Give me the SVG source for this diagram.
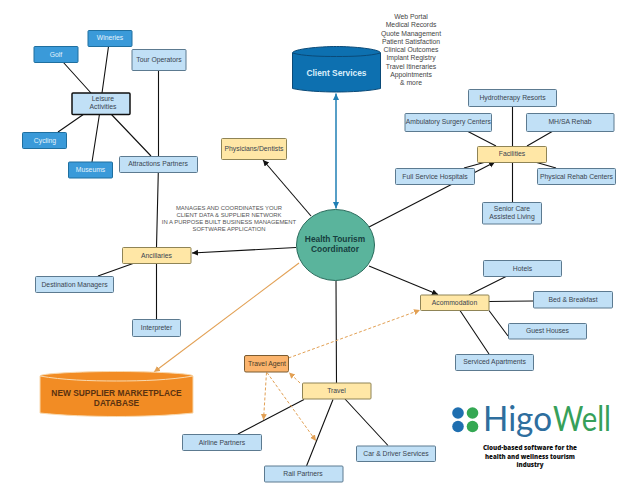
<svg xmlns="http://www.w3.org/2000/svg" width="638" height="493" viewBox="0 0 638 493">
<defs>
<style>
text{font-family:"Liberation Sans",Arial,sans-serif;text-anchor:middle}
.b rect{fill:#c1e0f6;stroke:#5c7a90;stroke-width:1}
.d rect{fill:#3a9ad9;stroke:#1f6f9f;stroke-width:1}
.y rect{fill:#ffe7a6;stroke:#8f8456;stroke-width:1}
.b text,.y text{font-size:6.8px;fill:#3a4450}
.d text{font-size:6.8px;fill:#e4f3fc}
.k{stroke:#111;stroke-width:1.1;fill:none}
.o{stroke:#e2a054;stroke-width:1;fill:none;stroke-dasharray:3 2}
.note{font-size:5.9px;fill:#555}
.list{font-size:6.8px;fill:#444}
.big{font-size:8.4px;font-weight:700}
</style>
<marker id="ak" markerWidth="7" markerHeight="7" refX="6" refY="3" orient="auto" markerUnits="userSpaceOnUse"><path d="M0 0L6 3L0 6Z" fill="#111"/></marker>
<marker id="ao" markerWidth="7" markerHeight="7" refX="6" refY="3" orient="auto" markerUnits="userSpaceOnUse"><path d="M0 0L6 3L0 6Z" fill="#e2a054"/></marker>
<marker id="at" markerWidth="8" markerHeight="8" refX="6.5" refY="3" orient="auto-start-reverse" markerUnits="userSpaceOnUse"><path d="M0 0L6.500 3L0 6Z" fill="#1f7fb5"/></marker>
</defs>
<rect width="638" height="493" fill="#fff"/>
<g id="connectors">
<path class="k" d="M63 62L91 93M108.500 46.500L102 93M84 114L58 132M99.500 114L92 162M111 114L151 156M158.500 70.500V156M158.300 172L156.500 247.500M133 263.500L98 276M156.500 263.500V319"/>
<path class="k" d="M512.500 106V146M467 131L496 146M553 131L527 146M464 168L484 162.500M512.500 162V202M535 162L556 168"/>
<path class="k" d="M369 266L438 294.500" marker-end="url(#ak)"/>
<path class="k" d="M489 301.500L533.500 301M506 276.500L469 295M489 310.500L508 336M460 310.500L489 354M336 280.500L336.500 383M333 399.500L306.500 466M345 399L388 445.500M304 399.500L238 434"/>
<path class="k" d="M296 247.500L192 253" marker-end="url(#ak)"/>
<path class="k" d="M311 216L263 160" marker-end="url(#ak)"/>
<path class="k" d="M369 227L495 162" marker-end="url(#ak)"/>
<path d="M299 263L154 372" stroke="#e2a054" stroke-width="1.100" fill="none" marker-end="url(#ao)"/>
<path d="M336 93.500V208.500" stroke="#1f7fb5" stroke-width="1.500" fill="none" marker-start="url(#at)" marker-end="url(#at)"/>
<path class="o" d="M288.500 358L420 310" marker-end="url(#ao)"/>
<path class="o" d="M300 383L289 372.500" marker-end="url(#ao)"/>
<path class="o" d="M266.500 372.500L263.500 420" marker-end="url(#ao)"/>
<path class="o" d="M267 372.500L316 441" marker-end="url(#ao)"/>
</g>
<g id="n-wineries" class="d"><rect x="88" y="30.500" width="44" height="16" rx="1"/><text x="110" y="40">Wineries</text></g>
<g id="n-golf" class="d"><rect x="34" y="46.500" width="44" height="16" rx="1"/><text x="56" y="56.500">Golf</text></g>
<g id="n-tour" class="b"><rect x="132" y="49.500" width="54" height="21" rx="1"/><text x="159" y="62">Tour Operators</text></g>
<g id="n-leisure" class="b"><rect x="72" y="93" width="58" height="21.500" rx="1" style="stroke:#111;stroke-width:1.500"/><text x="103" y="101">Leisure</text><text x="103" y="109">Activities</text></g>
<g id="n-cycling" class="d"><rect x="22.500" y="132.500" width="44" height="16" rx="1"/><text x="45" y="142.500">Cycling</text></g>
<g id="n-museums" class="d"><rect x="68.500" y="162" width="44" height="16" rx="1"/><text x="90.500" y="172">Museums</text></g>
<g id="n-attractions" class="b"><rect x="119.500" y="156.500" width="78" height="16" rx="1"/><text x="158" y="166">Attractions Partners</text></g>
<g id="n-physicians" class="y"><rect x="221.500" y="138.500" width="65" height="21" rx="1"/><text x="254" y="151">Physicians/Dentists</text></g>
<g id="n-client">
<path d="M292.500 53C292.500 49 320 46.500 336.500 46.500S380.500 49 380.500 53V88.500C370 91 350 92 336.500 92S303 91 292.500 88.500Z" fill="#0d70b0" stroke="#0a4a78"/>
<path d="M292.500 53C303 56 320 56.500 336.500 56.500S370 56 380.500 53" fill="none" stroke="#0a4a78"/>
<text class="big" x="336.500" y="76" style="fill:#d9eefb">Client Services</text>
</g>
<g id="client-list" class="list">
<text x="411" y="19">Web Portal</text><text x="411" y="27.200">Medical Records</text><text x="411" y="35.500">Quote Management</text><text x="411" y="43.700">Patient Satisfaction</text><text x="411" y="52">Clinical Outcomes</text><text x="411" y="60.200">Implant Registry</text><text x="411" y="68.500">Travel Itineraries</text><text x="411" y="76.700">Appointments</text><text x="411" y="85">&amp; more</text>
</g>
<g id="n-hydro" class="b"><rect x="468.500" y="89.500" width="88" height="17" rx="1"/><text x="512.500" y="99.500">Hydrotherapy Resorts</text></g>
<g id="n-ambulatory" class="b"><rect x="405" y="113.500" width="86.500" height="18" rx="1"/><text x="448.300" y="124" textLength="85" lengthAdjust="spacingAndGlyphs">Ambulatory Surgery Centers</text></g>
<g id="n-mhsa" class="b"><rect x="526.500" y="113.500" width="87.500" height="18" rx="1"/><text x="570" y="124">MH/SA Rehab</text></g>
<g id="n-facilities" class="y"><rect x="477.500" y="146.500" width="69" height="16" rx="1"/><text x="512" y="156">Facilities</text></g>
<g id="n-full" class="b"><rect x="395.500" y="168.500" width="79" height="16" rx="1"/><text x="435" y="178.500">Full Service Hospitals</text></g>
<g id="n-physical" class="b"><rect x="537.500" y="168.500" width="78" height="16" rx="1"/><text x="576.500" y="178.500">Physical Rehab Centers</text></g>
<g id="n-senior" class="b"><rect x="482.500" y="202.500" width="59" height="21.500" rx="1"/><text x="512" y="210.500">Senior Care</text><text x="512" y="218.500">Assisted Living</text></g>
<g id="n-coordinator"><ellipse cx="335.500" cy="245" rx="39" ry="35.500" fill="#5ab49c" stroke="#2a6b5c"/><text class="big" x="335" y="241.500" style="fill:#173f40">Health Tourism</text><text class="big" x="335" y="251.500" style="fill:#173f40">Coordinator</text></g>
<g id="note" class="note"><text x="229" y="209.500">MANAGES AND COORDINATES YOUR</text><text x="229" y="216.500">CLIENT DATA &amp; SUPPLIER NETWORK</text><text x="229" y="223.500">IN A PURPOSE BUILT BUSINESS MANAGEMENT</text><text x="229" y="230.700">SOFTWARE APPLICATION</text></g>
<g id="n-ancillaries" class="y"><rect x="122.500" y="247.500" width="68.500" height="16" rx="1"/><text x="156.500" y="257.500">Ancillaries</text></g>
<g id="n-destination" class="b"><rect x="35.500" y="276.500" width="78" height="16" rx="1"/><text x="74.500" y="286.500">Destination Managers</text></g>
<g id="n-interpreter" class="b"><rect x="132.500" y="319.500" width="48" height="17" rx="1"/><text x="156.500" y="329.500">Interpreter</text></g>
<g id="n-accommodation" class="y"><rect x="420.500" y="295" width="68.500" height="15.500" rx="1"/><text x="454.500" y="304.700">Acommodation</text></g>
<g id="n-hotels" class="b"><rect x="483.500" y="260.500" width="78" height="16" rx="1"/><text x="522.500" y="270.500">Hotels</text></g>
<g id="n-bb" class="b"><rect x="533.500" y="291.500" width="79" height="16.500" rx="1"/><text x="573" y="301.500">Bed &amp; Breakfast</text></g>
<g id="n-guest" class="b"><rect x="508.500" y="323.500" width="78" height="15.500" rx="1"/><text x="547.500" y="333">Guest Houses</text></g>
<g id="n-serviced" class="b"><rect x="455.500" y="354.500" width="78" height="16" rx="1"/><text x="494.500" y="364">Serviced Apartments</text></g>
<g id="n-agent"><rect x="244.500" y="355.500" width="44" height="16.500" rx="1.500" fill="#fbb46d" stroke="#7a5c32"/><text x="267" y="365.500" style="font-size:6.800px;fill:#4a3a28">Travel Agent</text></g>
<g id="n-travel" class="y"><rect x="302.500" y="383" width="68.500" height="16" rx="1"/><text x="336.500" y="392.700">Travel</text></g>
<g id="n-airline" class="b"><rect x="182.500" y="434.500" width="79" height="16" rx="1"/><text x="222" y="444.500">Airline Partners</text></g>
<g id="n-rail" class="b"><rect x="264.500" y="466" width="78.500" height="16" rx="1"/><text x="303" y="475.700">Rail Partners</text></g>
<g id="n-car" class="b"><rect x="356.500" y="446" width="79" height="15.500" rx="1"/><text x="396" y="455.500">Car &amp; Driver Services</text></g>
<g id="n-supplier">
<path d="M40 376C40 373.500 80 371.500 116.500 371.500S193 373.500 193 376V413C170 415.500 140 416.500 116.500 416.500S62 415.500 40 413Z" fill="#f28c24" stroke="#f9d9ae"/>
<path d="M40 376C62 380 90 381 116.500 381S170 380 193 376" fill="none" stroke="#f9d9ae"/>
<text class="big" x="116.500" y="395.500" style="fill:#5a3210">NEW SUPPLIER MARKETPLACE</text>
<text class="big" x="116.500" y="405.500" style="fill:#5a3210">DATABASE</text>
</g>
<g id="logo">
<circle cx="458" cy="413" r="5.800" fill="#1f6fb0"/><circle cx="472.500" cy="413" r="5.800" fill="#34a853"/><circle cx="458" cy="426.500" r="5.800" fill="#1f6fb0"/><circle cx="472.500" cy="426.500" r="5.800" fill="#34a853"/>
<text x="483" y="431" textLength="69" lengthAdjust="spacingAndGlyphs" style="font-family:Lato,sans-serif;font-size:34px;fill:#2e6e9e;text-anchor:start">Higo</text>
<text x="553" y="431" textLength="58" lengthAdjust="spacingAndGlyphs" style="font-family:Lato,sans-serif;font-size:34px;fill:#36a05a;text-anchor:start">Well</text>
<g style="font-size:7.500px;font-weight:800;fill:#111">
<text x="530" y="450" textLength="94" lengthAdjust="spacingAndGlyphs" style="font-family:'Open Sans',sans-serif">Cloud-based software for the</text>
<text x="530" y="458.500" textLength="90" lengthAdjust="spacingAndGlyphs" style="font-family:'Open Sans',sans-serif">health and wellness tourism</text>
<text x="530" y="467" textLength="27" lengthAdjust="spacingAndGlyphs" style="font-family:'Open Sans',sans-serif">industry</text>
</g>
</g>
</svg>
